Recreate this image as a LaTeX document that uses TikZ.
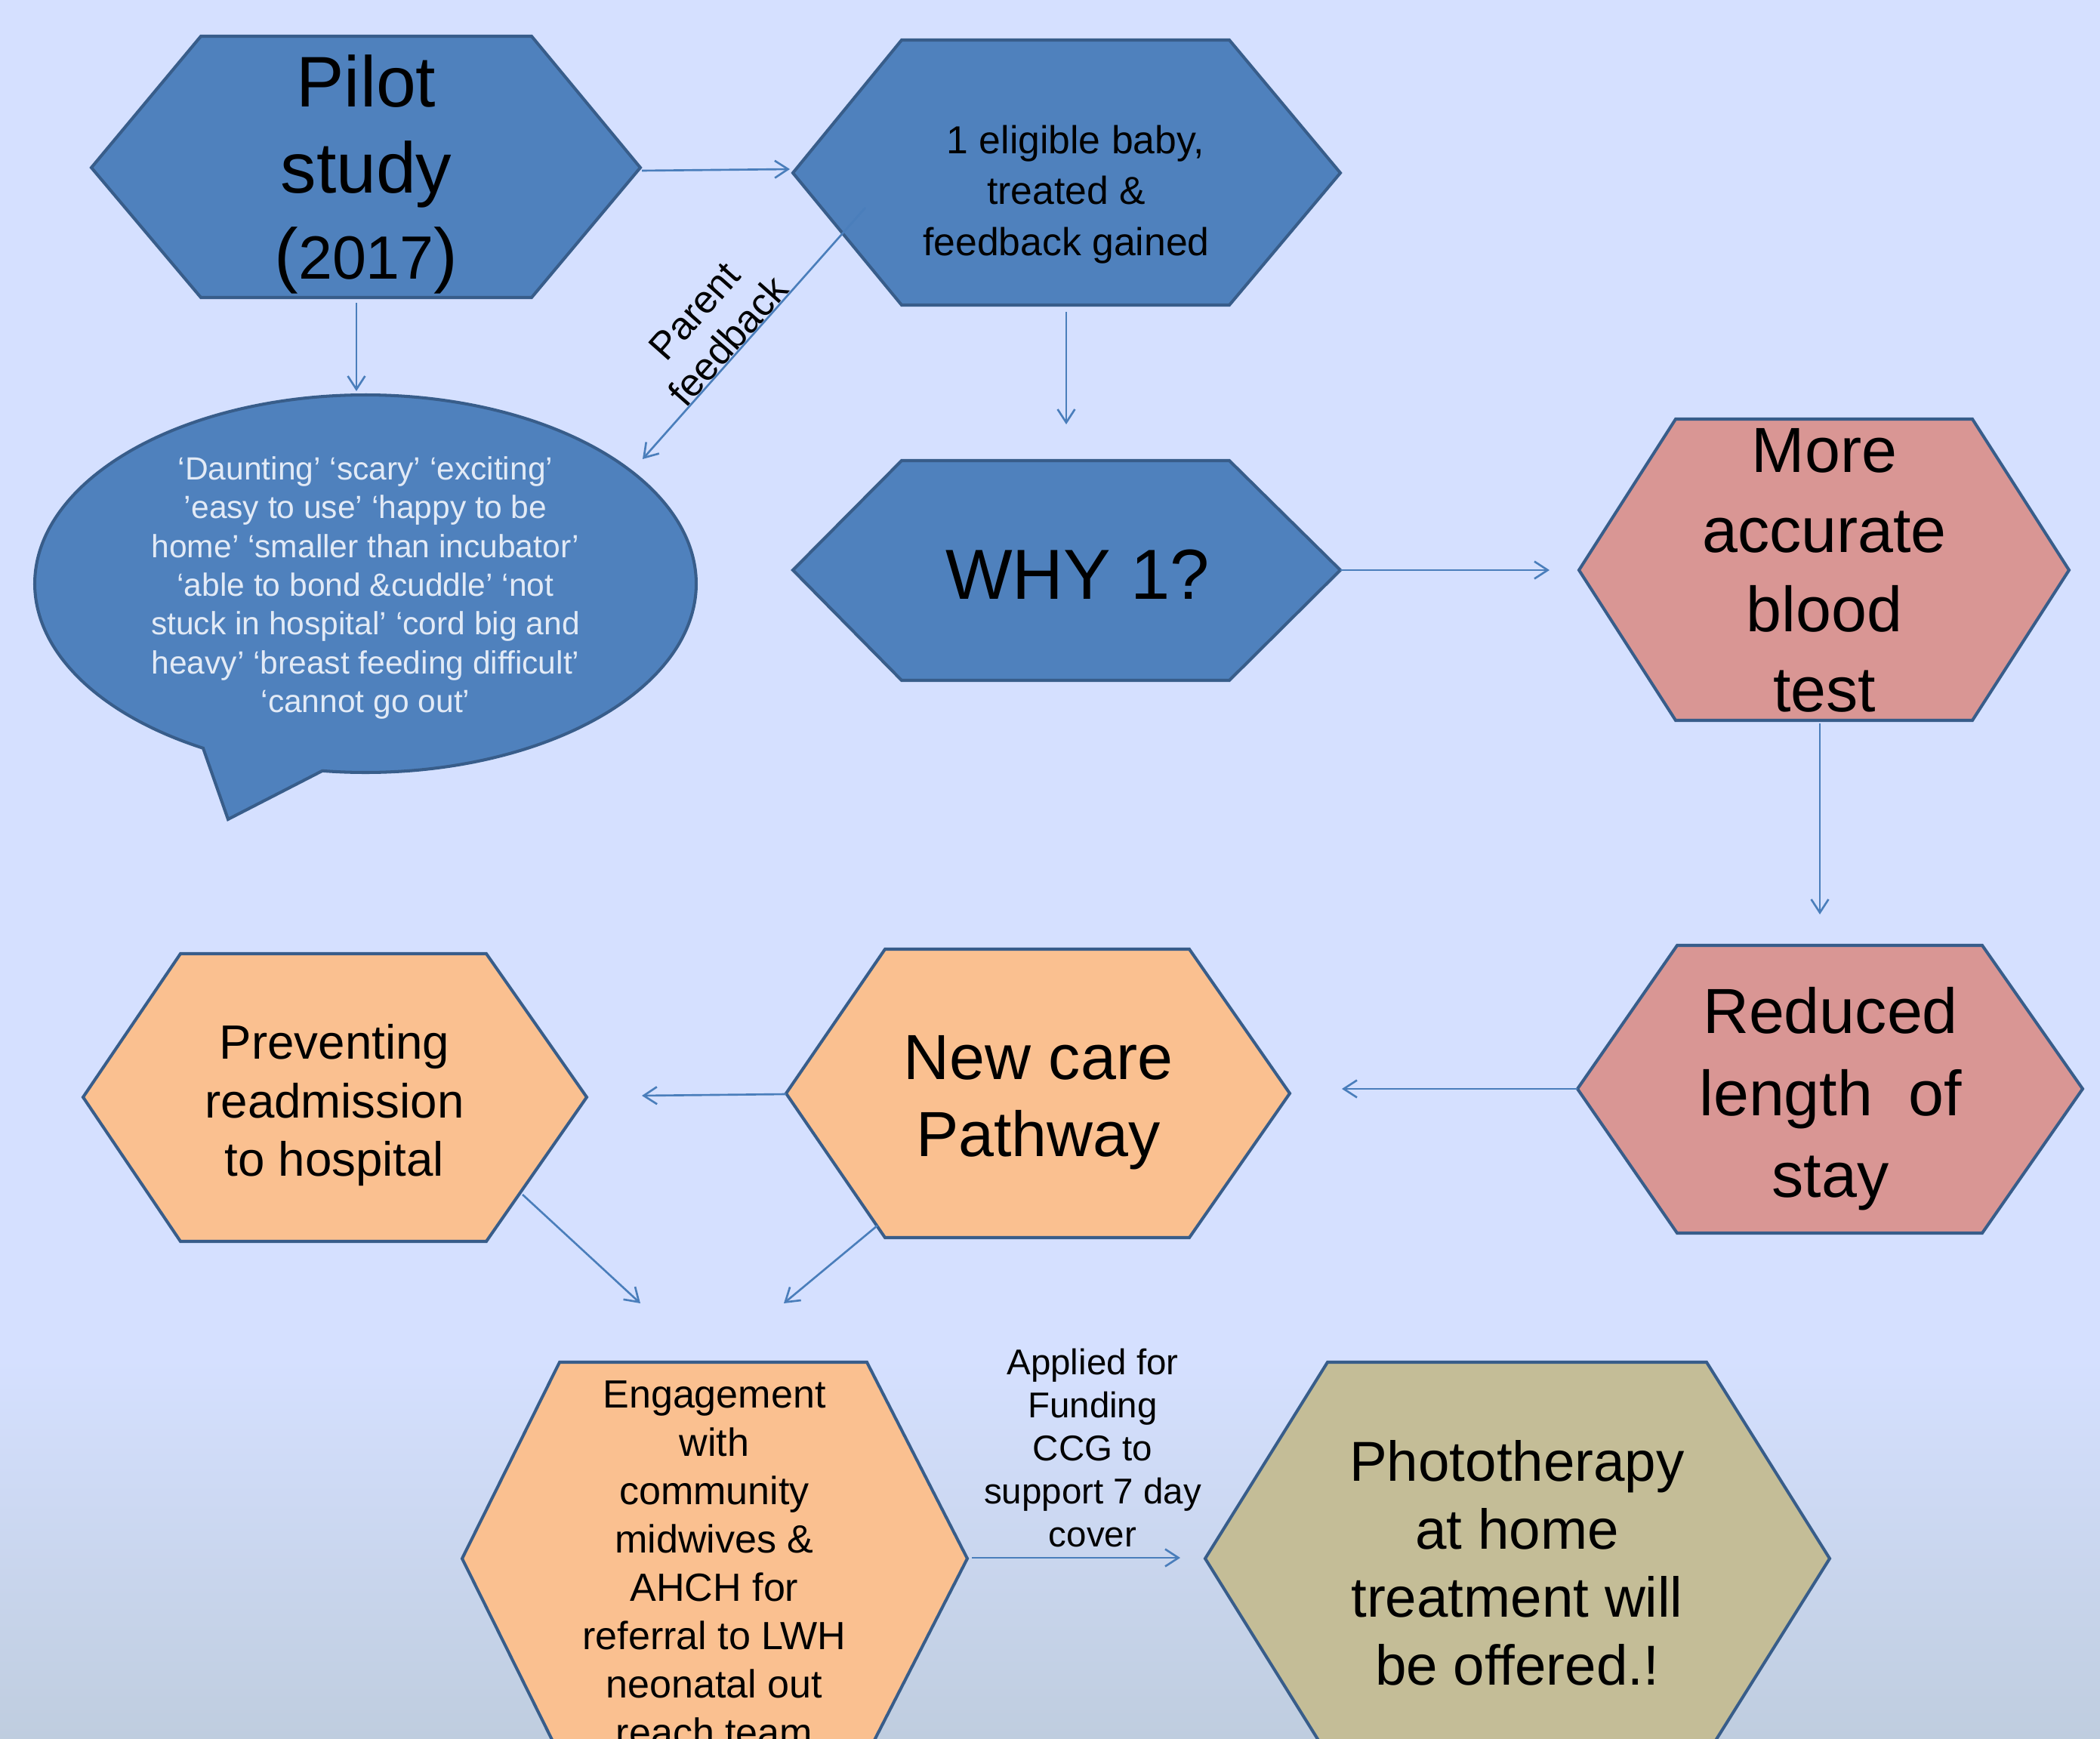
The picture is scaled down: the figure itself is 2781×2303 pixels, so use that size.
\documentclass[tikz,border=0pt]{standalone}
\usepackage{fontspec}
\setmainfont{Liberation Sans}
\usetikzlibrary{arrows.meta}
\definecolor{bgtop}{HTML}{D5E0FF}
\definecolor{bgbot}{HTML}{BFCDDF}
\definecolor{hexblue}{HTML}{4F81BD}
\definecolor{hexedge}{HTML}{385D8A}
\definecolor{hexpink}{HTML}{D99694}
\definecolor{hexorange}{HTML}{FAC090}
\definecolor{hexolive}{HTML}{C4BD97}
\definecolor{arrowblue}{HTML}{4A7EBB}
\definecolor{bubbletext}{HTML}{E2EAF6}
\begin{document}
\begin{tikzpicture}[x=0.01cm,y=-0.01cm,
  hexbox/.style={draw=hexedge, line width=1.15pt},
  conn/.style={draw=arrowblue, line width=0.75pt, -{Straight Barb[length=5pt,width=6.5pt]}},
  lbl/.style={inner sep=0pt, align=center, text=black}]
\useasboundingbox (0,0) rectangle (2781,2303);
\clip (0,0) rectangle (2781,2303);
% background
\fill[bgtop] (0,0) rectangle (2781,1800);
\shade[top color=bgtop, bottom color=bgbot] (0,1799) rectangle (2781,2303);

% hexagons
\draw[hexbox, fill=hexblue] (121,222) -- (266,48) -- (704,48) -- (848,222) -- (704,394) -- (266,394) -- cycle;
\draw[hexbox, fill=hexblue] (1050,229) -- (1194,53) -- (1628,53) -- (1775,229) -- (1628,404) -- (1194,404) -- cycle;
\draw[hexbox, fill=hexblue] (1050,755) -- (1194,610) -- (1628,610) -- (1775,755) -- (1628,901) -- (1194,901) -- cycle;
\draw[hexbox, fill=hexpink] (2091,755) -- (2219,555) -- (2612,555) -- (2740,755) -- (2612,954) -- (2219,954) -- cycle;
\draw[hexbox, fill=hexpink] (2089,1442) -- (2221,1252) -- (2625,1252) -- (2758,1442) -- (2625,1633) -- (2221,1633) -- cycle;
\draw[hexbox, fill=hexorange] (1041,1448) -- (1172,1257) -- (1575,1257) -- (1708,1448) -- (1575,1639) -- (1172,1639) -- cycle;
\draw[hexbox, fill=hexorange] (110,1453) -- (239,1263) -- (644,1263) -- (777,1453) -- (644,1644) -- (239,1644) -- cycle;
\draw[hexbox, fill=hexorange] (612,2064) -- (741,1804) -- (1148,1804) -- (1281,2064) -- (1148,2324) -- (741,2324) -- cycle;
\draw[hexbox, fill=hexolive] (1596,2064) -- (1758,1804) -- (2260,1804) -- (2423,2064) -- (2260,2324) -- (1758,2324) -- cycle;

% speech bubble
\draw[hexbox, fill=hexblue] plot[domain=-240.6:97.5, samples=180, smooth] ({484+438*cos(\x)},{773+250*sin(\x)}) -- (302,1085) -- cycle;

% texts
\node[lbl, anchor=north, font={\fontsize{27}{32.4}\selectfont}] (pilot) at (485,72) {Pilot\\study\\({\fontsize{23}{32.4}\selectfont 2017})};
\node[lbl, anchor=north, font={\fontsize{14.7}{19.2}\selectfont}] (elig) at (1412,165) {\hspace*{7pt}1 eligible baby,\\treated \&\\feedback gained};
\node[lbl, anchor=north, text=bubbletext, font={\fontsize{12.1}{14.6}\selectfont}] (quotes) at (484,604) {‘Daunting’ ‘scary’ ‘exciting’\\’easy to use’ ‘happy to be\\home’ ‘smaller than incubator’\\‘able to bond \&cuddle’ ‘not\\stuck in hospital’ ‘cord big and\\heavy’ ‘breast feeding difficult’\\‘cannot go out’};
\node[lbl, anchor=base, font={\fontsize{26.7}{32}\selectfont}] (why) at (1427,793) {WHY 1?};
\node[lbl, anchor=north, font={\fontsize{24}{30}\selectfont}] (more) at (2416,567) {More\\accurate\\blood\\test};
\node[lbl, anchor=north, font={\fontsize{24}{30.8}\selectfont}] (reduced) at (2424,1307) {Reduced\\length\ \ of\\stay};
\node[lbl, anchor=north, font={\fontsize{24}{28.8}\selectfont}] (newcare) at (1375,1371) {New care\\Pathway};
\node[lbl, anchor=north, font={\fontsize{18.1}{22}\selectfont}] (prevent) at (443,1356) {Preventing\\readmission\\to hospital};
\node[lbl, anchor=north, font={\fontsize{14.8}{18.2}\selectfont}] (engage) at (946,1828) {Engagement\\with\\community\\midwives \&\\AHCH for\\referral to LWH\\neonatal out\\reach team};
\node[lbl, anchor=north, font={\fontsize{13.5}{16.2}\selectfont}] (funding) at (1447,1785) {Applied for\\Funding\\CCG to\\support 7 day\\cover};
\node[lbl, anchor=north, font={\fontsize{21.2}{25.6}\selectfont}] (photo) at (2009,1907) {Phototherapy\\at home\\treatment will\\be offered.!};
\node[lbl, rotate=48.5, font={\fontsize{14.6}{17}\selectfont}] (pfb) at (942,432) {Parent\\feedback};

% connector end points
\coordinate (pilotR) at (850,226);
\coordinate (eligL) at (1046,224);
\coordinate (pilotB) at (472,401);
\coordinate (bubT) at (472,518);
\coordinate (eligI) at (1146,275);
\coordinate (bubR) at (851,608);
\coordinate (eligB) at (1412,413);
\coordinate (whyT) at (1412,562);
\coordinate (whyR) at (1775,755);
\coordinate (moreL) at (2052,755);
\coordinate (moreB) at (2410,958);
\coordinate (redT) at (2410,1211);
\coordinate (redL) at (2089,1442);
\coordinate (newR) at (1777,1442);
\coordinate (newL) at (1041,1449);
\coordinate (prevR) at (850,1451);
\coordinate (prevB) at (692,1582);
\coordinate (engA) at (848,1726);
\coordinate (newB) at (1162,1623);
\coordinate (engB) at (1038,1726);
\coordinate (engR) at (1287,2063);
\coordinate (photoL) at (1563,2063);

% connectors
\draw[conn] (pilotR) -- (eligL);
\draw[conn] (pilotB) -- (bubT);
\draw[conn] (eligI) -- (bubR);
\draw[conn] (eligB) -- (whyT);
\draw[conn] (whyR) -- (moreL);
\draw[conn] (moreB) -- (redT);
\draw[conn] (redL) -- (newR);
\draw[conn] (newL) -- (prevR);
\draw[conn] (prevB) -- (engA);
\draw[conn] (newB) -- (engB);
\draw[conn] (engR) -- (photoL);
\end{tikzpicture}
\end{document}
